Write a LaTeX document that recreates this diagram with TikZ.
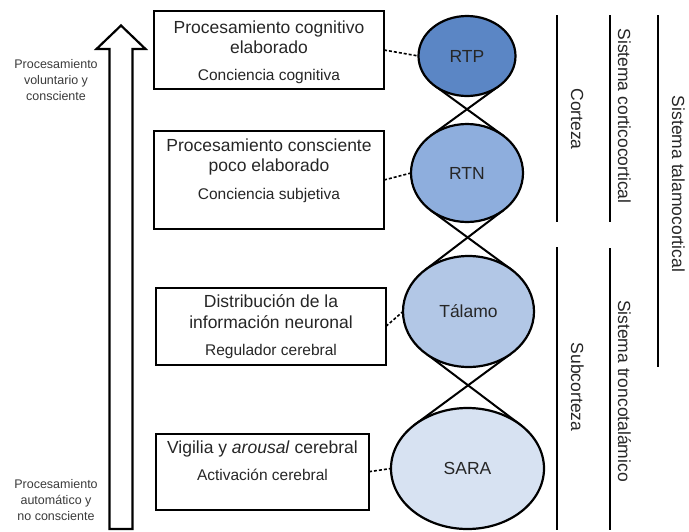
\documentclass[tikz,border=0pt]{standalone}
\usepackage{fontspec}
\setmainfont{Liberation Sans}
\usetikzlibrary{shapes.geometric,backgrounds}
\definecolor{cRTP}{HTML}{5B86C5}
\definecolor{cRTN}{HTML}{8EAEDD}
\definecolor{cTal}{HTML}{B2C7E6}
\definecolor{cSARA}{HTML}{D7E2F2}
\definecolor{txt}{HTML}{262626}
\definecolor{txtg}{HTML}{3A3A3A}
\begin{document}
\begin{tikzpicture}[x=1pt,y=-1pt,
  box/.style={draw=black, line width=2pt, inner sep=0pt, outer sep=0pt},
  oval/.style={ellipse, draw=black, line width=2.2pt, inner sep=0pt, outer sep=0pt, text=txt, font=\fontsize{17.5}{20}\selectfont},
  ttl/.style={anchor=base, inner sep=0pt, text=txt, font=\fontsize{17.5}{20}\selectfont},
  sub/.style={anchor=base, inner sep=0pt, text=txt, font=\fontsize{15.5}{18}\selectfont},
  side/.style={align=center, anchor=base, inner sep=0pt, text=txtg, font=\fontsize{12.5}{16}\selectfont},
  vert/.style={rotate=-90, anchor=base, inner sep=0pt, text=txt, font=\fontsize{17.5}{20}\selectfont},
  bar/.style={line width=2.5pt},
  link/.style={dashed, dash pattern=on 3pt off 2pt, line width=1.6pt},
  cross/.style={line width=2pt, shorten <=-1.5pt, shorten >=-1.5pt}]
\useasboundingbox (0,0) rectangle (689,531);

% big hollow arrow
\draw[line width=2.2pt, fill=white, line join=miter]
  (109.5,529) -- (109.5,49) -- (96.5,49) -- (121,25.5) -- (145.5,49) -- (132.5,49) -- (132.5,529) -- cycle;

% side texts (base anchor = baseline of last line)
\node[side] (up) at (56,100) {Procesamiento\\voluntario y\\consciente};
\node[side] (down) at (56,520) {Procesamiento\\automático y\\no consciente};

% boxes
\node[box, minimum width=230pt, minimum height=78pt] (b1) at (269,50) {};
\node[box, minimum width=230pt, minimum height=98pt] (b2) at (269,180) {};
\node[box, minimum width=230pt, minimum height=77pt] (b3) at (271,326.3) {};
\node[box, minimum width=213pt, minimum height=76pt] (b4) at (262.5,471.7) {};

\node[ttl] (t1a) at (269,33.3) {Procesamiento cognitivo};
\node[ttl] (t1b) at (269,53.3) {elaborado};
\node[sub] (t1c) at (269,80.7) {Conciencia cognitiva};

\node[ttl] (t2a) at (269,151.7) {Procesamiento consciente};
\node[ttl] (t2b) at (269,171.7) {poco elaborado};
\node[sub] (t2c) at (269,199.3) {Conciencia subjetiva};

\node[ttl] (t3a) at (271,307.3) {Distribución de la};
\node[ttl] (t3b) at (271,328.3) {información neuronal};
\node[sub] (t3c) at (271,355) {Regulador cerebral};

\node[ttl] (t4a) at (262.5,453.3) {Vigilia y \textit{arousal} cerebral};
\node[sub] (t4b) at (262.5,480) {Activación cerebral};

% ellipses
\node[oval, fill=cRTP, minimum width=97pt, minimum height=80pt] (RTP) at (467,56) {RTP};
\node[oval, fill=cRTN, minimum width=112pt, minimum height=98pt] (RTN) at (467,173) {RTN};
\node[oval, fill=cTal, minimum width=131pt, minimum height=111pt] (TAL) at (468.5,311.5) {Tálamo};
\node[oval, fill=cSARA, minimum width=153pt, minimum height=121pt] (SARA) at (467.5,468.5) {SARA};

\begin{pgfonlayer}{background}
\draw[cross] (RTP.-133.4) -- (RTN.46.6);
\draw[cross] (RTP.-46.6) -- (RTN.133.4);
\draw[cross] (RTN.-132.3) -- (TAL.44.6);
\draw[cross] (RTN.-47.7) -- (TAL.135.4);
\draw[cross] (TAL.-132.5) -- (SARA.39.4);
\draw[cross] (TAL.-47.5) -- (SARA.140.6);
\draw[link] (b1.east) -- (RTP.west);
\draw[link] (b2.east) -- (RTN.west);
\draw[link] (b3.east) -- (TAL.west);
\draw[link] (b4.east) -- (SARA.west);
\end{pgfonlayer}

% brackets
\draw[bar] (557,15) -- (557,222);
\draw[bar] (557,247) -- (557,530);
\draw[bar] (610,15) -- (610,222);
\draw[bar] (610,248) -- (610,530);
\draw[bar] (658,15) -- (658,367);

\node[vert] (cor) at (571,119) {Corteza};
\node[vert] (sub) at (571,387) {Subcorteza};
\node[vert] (scc) at (618,116) {Sistema corticocortical};
\node[vert] (stt) at (618,391) {Sistema troncotalámico};
\node[vert] (stc) at (672,184) {Sistema talamocortical};
\end{tikzpicture}
\end{document}
